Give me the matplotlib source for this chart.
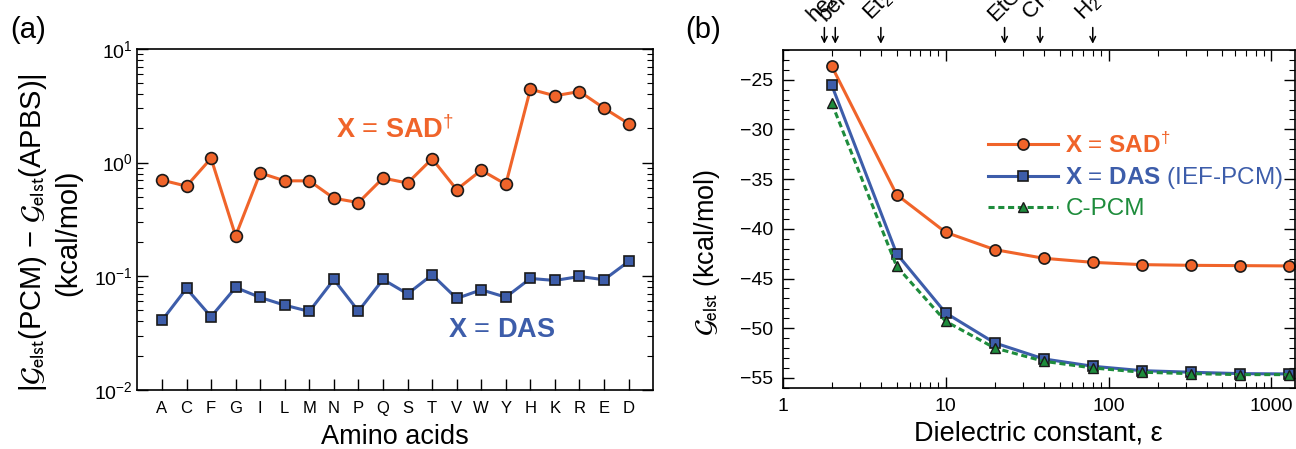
import numpy as np
import matplotlib
matplotlib.use("Agg")
import matplotlib.pyplot as plt
from matplotlib.ticker import LogLocator, MultipleLocator, NullFormatter
import matplotlib.transforms as mtransforms

plt.rcParams['font.family'] = ['Liberation Sans', 'DejaVu Sans']
plt.rcParams['mathtext.fontset'] = 'custom'
plt.rcParams['mathtext.rm'] = 'Liberation Sans'
plt.rcParams['mathtext.it'] = 'Liberation Sans:italic'
plt.rcParams['mathtext.bf'] = 'Liberation Sans:bold'
plt.rcParams['axes.unicode_minus'] = True

# ---- panel (a) data ----
amino = ['A', 'C', 'F', 'G', 'I', 'L', 'M', 'N', 'P', 'Q',
         'S', 'T', 'V', 'W', 'Y', 'H', 'K', 'R', 'E', 'D']
sad_err = [0.70, 0.62, 1.09, 0.226, 0.81, 0.69, 0.69, 0.485, 0.444, 0.73,
           0.66, 1.08, 0.578, 0.856, 0.644, 4.42, 3.87, 4.22, 3.01, 2.20]
das_err = [0.0407, 0.0779, 0.0439, 0.0795, 0.0649, 0.0555, 0.0489, 0.0935, 0.0492, 0.0935,
           0.0698, 0.1027, 0.0636, 0.0758, 0.0653, 0.0954, 0.0916, 0.0993, 0.0930, 0.1346]

# ---- panel (b) data ----
eps = [2, 5, 10, 20, 40, 80, 160, 320, 640, 1280]
g_sad = [-23.66, -36.56, -40.35, -42.09, -42.96, -43.37, -43.60, -43.67, -43.70, -43.73]
g_das = [-25.57, -42.49, -48.46, -51.47, -53.08, -53.82, -54.26, -54.42, -54.56, -54.59]
g_cpcm = [-27.38, -43.77, -49.30, -51.98, -53.32, -53.99, -54.42, -54.56, -54.66, -54.66]

solvents = ['hexane', 'benzene', r'Et$_2$O', 'EtOH', r'CH$_3$CN', r'H$_2$O']
solvent_eps = [1.8, 2.1, 4.0, 23, 38, 80]

orange = '#F0642A'
blue = '#3D5DAA'
green = '#1E8C3C'
edge = '#1a1a1a'

fig = plt.figure(figsize=(12.96, 4.49), dpi=100)

# ================= (a) =================
ax1 = fig.add_axes([0.106, 0.132, 0.398, 0.759])
x = np.arange(len(amino))
ax1.plot(x, sad_err, '-o', color=orange, lw=2.2, ms=8.5, mfc=orange, mec=edge, mew=1.2)
ax1.plot(x, das_err, '-s', color=blue, lw=2.2, ms=7.5, mfc=blue, mec=edge, mew=1.2)
ax1.set_yscale('log')
ax1.set_ylim(1e-2, 1e1)
ax1.set_xlim(-1, 20)
ax1.set_xticks(x)
ax1.set_xticklabels(amino, fontsize=12)
ax1.yaxis.set_major_locator(LogLocator(base=10, numticks=10))
ax1.yaxis.set_minor_locator(LogLocator(base=10, subs=np.arange(2, 10), numticks=20))
ax1.yaxis.set_minor_formatter(NullFormatter())
ax1.tick_params(axis='y', which='major', direction='in', length=8, width=1, labelsize=14, right=True)
ax1.tick_params(axis='y', which='minor', direction='in', length=4, width=0.8, right=True)
ax1.tick_params(axis='x', which='major', direction='in', length=8, width=1, pad=8)
ax1.set_xlabel('Amino acids', fontsize=19.5, labelpad=6)
ax1.set_ylabel('|$\\mathcal{G}_{\\mathrm{elst}}$(PCM) \u2212 $\\mathcal{G}_{\\mathrm{elst}}$(APBS)|\n(kcal/mol)',
               fontsize=21, linespacing=1.25, math_fontfamily='stixsans')
ax1.yaxis.set_label_coords(-0.107, 0.46)
for s in ax1.spines.values():
    s.set_linewidth(1.2)
ax1.text(0.50, 0.762, r'$\mathbf{X}$ = $\mathbf{SAD}^{\dagger}$', transform=ax1.transAxes,
         color=orange, fontsize=19.5, ha='center', va='center')
ax1.text(0.707, 0.176, r'$\mathbf{X}$ = $\mathbf{DAS}$', transform=ax1.transAxes,
         color=blue, fontsize=19.5, ha='center', va='center')
fig.text(0.008, 0.933, '(a)', fontsize=21, ha='left', va='center')

# ================= (b) =================
ax2 = fig.add_axes([0.604, 0.136, 0.395, 0.753])
l1, = ax2.plot(eps, g_sad, '-o', color=orange, lw=2.2, ms=8, mfc=orange, mec=edge, mew=1.2)
l2, = ax2.plot(eps, g_das, '-s', color=blue, lw=2.2, ms=7.5, mfc=blue, mec=edge, mew=1.2)
l3, = ax2.plot(eps, g_cpcm, '--^', color=green, lw=2.2, ms=7.5, mfc=green, mec=edge, mew=1.0,
               dashes=(2, 1.2))
ax2.set_xscale('log')
ax2.set_xlim(1, 1390)
ax2.set_ylim(-56, -22)
ax2.set_xticks([1, 10, 100, 1000])
ax2.set_xticklabels(['1', '10', '100', '1000'])
ax2.xaxis.set_minor_locator(LogLocator(base=10, subs=np.arange(2, 10), numticks=20))
ax2.xaxis.set_minor_formatter(NullFormatter())
ax2.set_yticks([-25, -30, -35, -40, -45, -50, -55])
ax2.yaxis.set_minor_locator(MultipleLocator(1))
ax2.tick_params(which='major', direction='in', length=8, width=1, labelsize=14,
                top=True, right=True, pad=7)
ax2.tick_params(which='minor', direction='in', length=4, width=0.8, top=True, right=True)
ax2.set_xlabel('Dielectric constant, \u03b5', fontsize=19.5, labelpad=4)
ax2.set_ylabel(r'$\mathcal{G}_{\mathrm{elst}}$ (kcal/mol)', fontsize=19.5, math_fontfamily='stixsans')
ax2.yaxis.set_label_coords(-0.119, 0.4)
for s in ax2.spines.values():
    s.set_linewidth(1.2)

leg = ax2.legend([l1, l2, l3],
                 [r'$\mathbf{X}$ = $\mathbf{SAD}^{\dagger}$',
                  r'$\mathbf{X}$ = $\mathbf{DAS}$ (IEF-PCM)',
                  'C-PCM'],
                 loc='upper left', bbox_to_anchor=(0.40, 0.755), frameon=False,
                 fontsize=17.5, handlelength=2.9, handletextpad=0.3, labelspacing=0.3,
                 borderaxespad=0, borderpad=0)
for t, c in zip(leg.get_texts(), [orange, blue, green]):
    t.set_color(c)

trans = mtransforms.blended_transform_factory(ax2.transData, ax2.transAxes)
for name, e in zip(solvents, solvent_eps):
    ax2.annotate('', xy=(e, 1.018), xycoords=trans, xytext=(e, 1.066), textcoords=trans,
                 arrowprops=dict(arrowstyle='->', lw=1.1, color='black', shrinkA=0, shrinkB=0),
                 annotation_clip=False)
    ax2.text(e, 1.072, name,
             transform=trans + mtransforms.ScaledTranslation(-6 / 100, 0, fig.dpi_scale_trans),
             rotation=45, rotation_mode='anchor', ha='left', va='bottom', fontsize=16, clip_on=False)
fig.text(0.529, 0.933, '(b)', fontsize=21, ha='left', va='center')

fig.savefig('out.png', dpi=100)
